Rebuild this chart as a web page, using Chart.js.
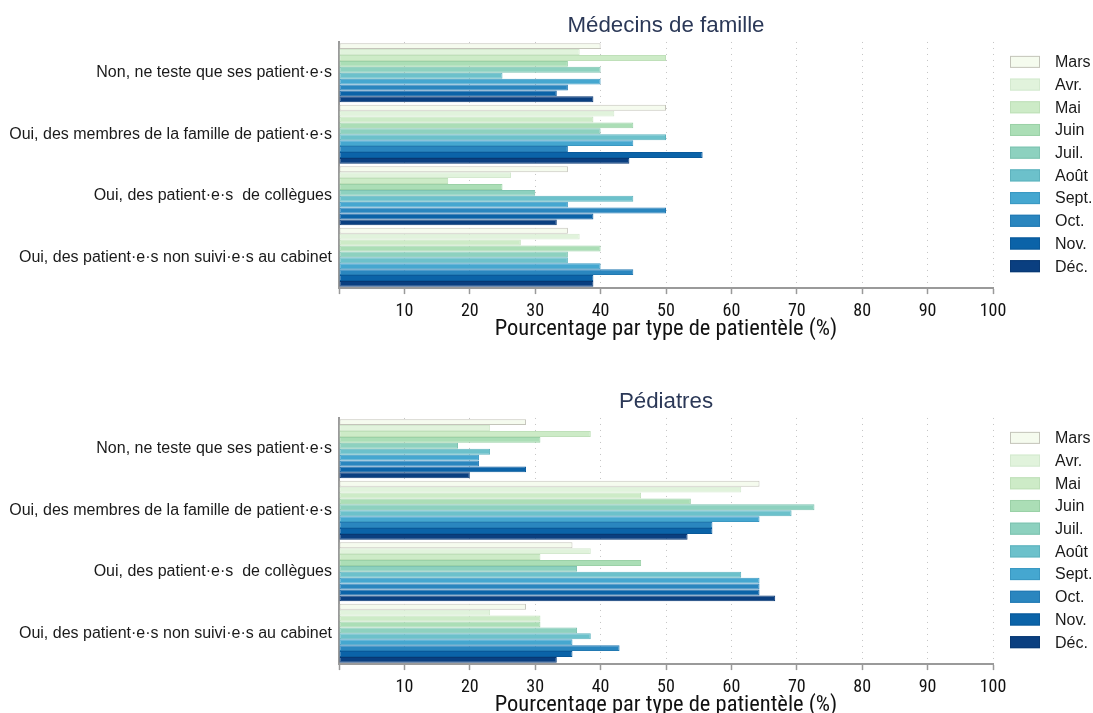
<!DOCTYPE html>
<html>
<head>
<meta charset="utf-8">
<script src="https://cdn.jsdelivr.net/npm/chart.js@4.4.1/dist/chart.umd.min.js"></script>
<style>
  html, body { margin: 0; padding: 0; background: #ffffff; overflow: hidden; }
  .panel { position: absolute; left: 0; width: 1093px; height: 350px; }
  #p1 { top: 0; }
  #p2 { top: 376px; }
</style>
</head>
<body>
<div class="panel" id="p1"><canvas id="c1" width="1093" height="350"></canvas></div>
<div class="panel" id="p2"><canvas id="c2" width="1093" height="350"></canvas></div>
<script>
// Response categories (y axis)
const categories = [
  'Non, ne teste que ses patient·e·s',
  'Oui, des membres de la famille de patient·e·s',
  'Oui, des patient·e·s  de collègues',
  'Oui, des patient·e·s non suivi·e·s au cabinet'
];

// Survey months (one bar per month in each category)
const months = ['Mars', 'Avr.', 'Mai', 'Juin', 'Juil.', 'Août', 'Sept.', 'Oct.', 'Nov.', 'Déc.'];

// x axis tick values
const xTicks = [10, 20, 30, 40, 50, 60, 70, 80, 90, 100];

// Médecins de famille: % per category, one array per month
const mfMars = [40.0, 50.0, 35.0, 35.0];
const mfAvr  = [36.8, 42.1, 26.3, 36.8];
const mfMai  = [50.0, 38.9, 16.7, 27.8];
const mfJuin = [35.0, 45.0, 25.0, 40.0];
const mfJuil = [40.0, 40.0, 30.0, 35.0];
const mfAout = [25.0, 50.0, 45.0, 35.0];
const mfSept = [40.0, 45.0, 35.0, 40.0];
const mfOct  = [35.0, 35.0, 50.0, 45.0];
const mfNov  = [33.3, 55.6, 38.9, 38.9];
const mfDec  = [38.9, 44.4, 33.3, 38.9];

// Pédiatres: % per category, one array per month
const pedMars = [28.6, 64.3, 35.7, 28.6];
const pedAvr  = [23.1, 61.5, 38.5, 23.1];
const pedMai  = [38.5, 46.2, 30.8, 30.8];
const pedJuin = [30.8, 53.8, 46.2, 30.8];
const pedJuil = [18.2, 72.7, 36.4, 36.4];
const pedAout = [23.1, 69.2, 61.5, 38.5];
const pedSept = [21.4, 64.3, 64.3, 35.7];
const pedOct  = [21.4, 57.1, 64.3, 42.9];
const pedNov  = [28.6, 57.1, 64.3, 35.7];
const pedDec  = [20.0, 53.3, 66.7, 33.3];

// Green-to-blue sequential palette, light to dark
const fills   = ['#f5fbee', '#e1f3dc', '#cdebc7', '#abdeb6', '#8dd1bf', '#6cc1cb', '#45a7d0', '#2a86bf', '#0b63a8', '#0a3f80'];
const borders = ['#c4c4ba', '#d4e9cf', '#bfe0b9', '#9bd1a7', '#7ec3b1', '#5eb3be', '#3a98c2', '#2279b2', '#09599a', '#083873'];

const sansFont   = "'Liberation Sans', Arial, sans-serif";
const narrowFont = "'Roboto Condensed', 'Liberation Sans Narrow', 'Liberation Sans', Arial, sans-serif";

// Centre the chart title over the plotting area rather than the whole canvas
const titleOverPlot = {
  id: 'titleOverPlot',
  afterLayout(chart) {
    const t = chart.titleBlock;
    if (t) {
      t.left = chart.chartArea.left;
      t.right = chart.chartArea.right;
    }
  }
};

// Legend drawn in the right margin: one swatch + label per month
const sideLegend = {
  id: 'sideLegend',
  afterDraw(chart) {
    const { ctx, chartArea } = chart;
    const step = 22.7;
    const n = chart.data.datasets.length;
    const mid = (chartArea.top + chartArea.bottom) / 2 - 1;
    const y0 = mid - step * (n - 1) / 2;
    ctx.save();
    ctx.font = "16px " + sansFont;
    ctx.textBaseline = 'middle';
    ctx.textAlign = 'left';
    chart.data.datasets.forEach((ds, i) => {
      const y = y0 + i * step;
      ctx.fillStyle = ds.backgroundColor;
      ctx.fillRect(1010, y - 6, 30, 12);
      ctx.lineWidth = 1;
      ctx.strokeStyle = ds.borderColor;
      ctx.strokeRect(1010.5, y - 5.5, 29, 11);
      ctx.fillStyle = '#1a1a1a';
      ctx.fillText(ds.label, 1055, y + 1);
    });
    ctx.restore();
  }
};

function buildChart(canvasId, title, series) {
  const datasets = months.map((m, i) => ({
    label: m,
    data: series[i],
    backgroundColor: fills[i],
    borderColor: borders[i],
    borderWidth: 1,
    borderSkipped: false,
    categoryPercentage: 0.96,
    barPercentage: 1.0
  }));

  return new Chart(document.getElementById(canvasId), {
    type: 'bar',
    data: { labels: categories, datasets },
    plugins: [titleOverPlot, sideLegend],
    options: {
      indexAxis: 'y',
      responsive: false,
      animation: false,
      layout: { padding: { left: 0, right: 100, top: 0, bottom: 0 } },
      plugins: {
        title: {
          display: true,
          text: title,
          color: '#2b3857',
          font: { family: sansFont, size: 22.3, weight: 'normal' },
          padding: { top: 12.2, bottom: 3 }
        },
        legend: { display: false },
        tooltip: { enabled: false }
      },
      scales: {
        x: {
          min: 0,
          max: 100,
          afterBuildTicks: (axis) => {
            axis.ticks = [0].concat(xTicks).map(v => ({ value: v }));
          },
          ticks: {
            callback: (v) => (v === 0 ? '' : String(v)),
            color: '#111111',
            font: { family: narrowFont, size: 18 },
            padding: 6.3,
            maxRotation: 0,
            autoSkip: false
          },
          grid: {
            color: '#c4c4c4',
            lineWidth: 1,
            drawTicks: true,
            tickLength: 6,
            tickColor: '#9a9a9a',
            tickWidth: 1.5,
            tickBorderDash: []
          },
          border: { display: true, color: '#9a9a9a', width: 2, dash: [1, 5] },
          title: {
            display: true,
            text: 'Pourcentage par type de patientèle (%)',
            color: '#111111',
            font: { family: narrowFont, size: 22.5 },
            padding: { top: -12.9, bottom: 7.6 }
          }
        },
        y: {
          afterFit: (scale) => { scale.width = 339; },
          grid: { display: false, drawTicks: false },
          border: { display: true, color: '#9a9a9a', width: 2 },
          ticks: {
            color: '#1a1a1a',
            font: { family: sansFont, size: 16 },
            padding: 7
          }
        }
      }
    }
  });
}

buildChart('c1', 'Médecins de famille',
  [mfMars, mfAvr, mfMai, mfJuin, mfJuil, mfAout, mfSept, mfOct, mfNov, mfDec]);
buildChart('c2', 'Pédiatres',
  [pedMars, pedAvr, pedMai, pedJuin, pedJuil, pedAout, pedSept, pedOct, pedNov, pedDec]);
</script>
</body>
</html>
